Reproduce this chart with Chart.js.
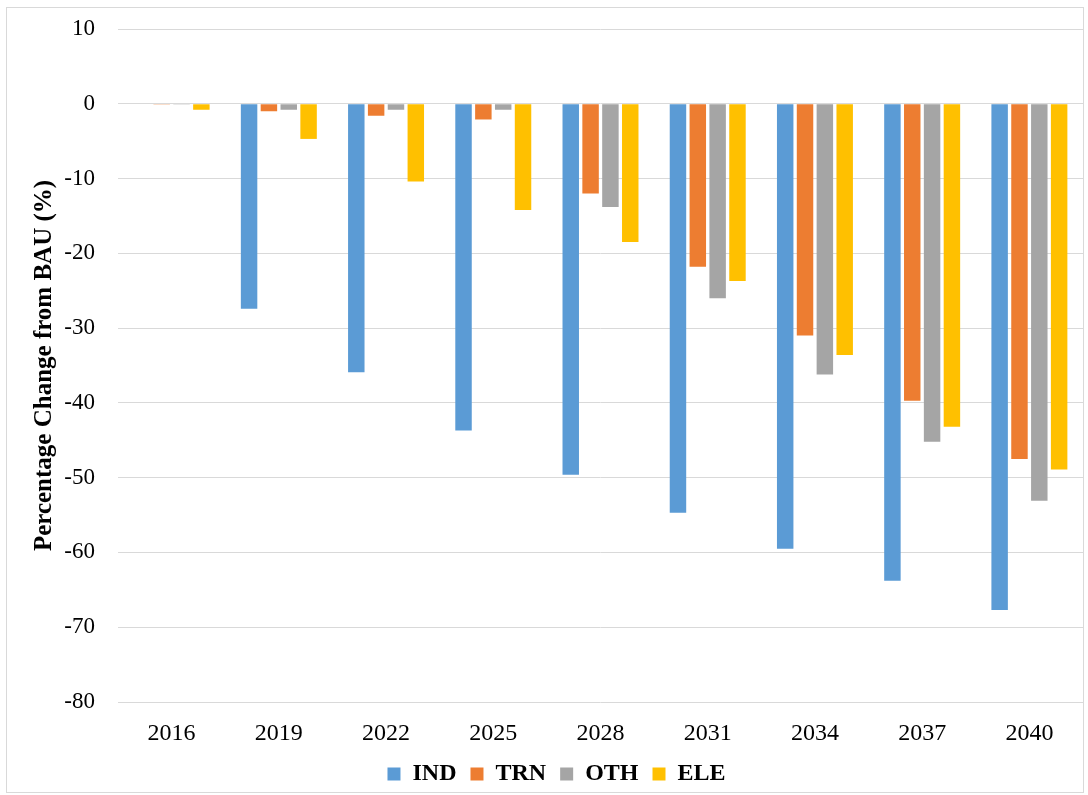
<!DOCTYPE html>
<html>
<head>
<meta charset="utf-8">
<script src="https://cdn.jsdelivr.net/npm/chart.js@4/dist/chart.umd.min.js"></script>
<style>
    body { margin: 0; background: #fff; }
    #wrap { position: absolute; left: 6px; top: 7px; width: 1078px; height: 786px; border: 1px solid #d9d9d9; box-sizing: border-box; }
    #box { position: absolute; left: 0; top: 0; width: 1088px; height: 795px; }
</style>
</head>
<body>
<div id="wrap"></div>
<div id="box"><canvas id="myChart"></canvas></div>
<script>
const Years = ['2016', '2019', '2022', '2025', '2028', '2031', '2034', '2037', '2040'];
const IND = [0, -27.4, -35.9, -43.7, -49.6, -54.7, -59.5, -63.8, -67.7];
const TRN = [-0.1, -1.0, -1.6, -2.1, -12.0, -21.8, -31.0, -39.7, -47.5];
const OTH = [-0.1, -0.8, -0.8, -0.8, -13.8, -26.0, -36.2, -45.2, -53.1];
const ELE = [-0.8, -4.7, -10.4, -14.2, -18.5, -23.7, -33.6, -43.2, -48.9];
const yTicks = [10, 0, -10, -20, -30, -40, -50, -60, -70, -80];

const FONT = '"Liberation Serif", "Times New Roman", serif';

const ctx = document.getElementById('myChart').getContext('2d');
const myChart = new Chart(ctx, {
    type: 'bar',
    data: {
        labels: Years,
        datasets: [
            { label: 'IND', data: IND, backgroundColor: '#5B9BD5' },
            { label: 'TRN', data: TRN, backgroundColor: '#ED7D31' },
            { label: 'OTH', data: OTH, backgroundColor: '#A5A5A5' },
            { label: 'ELE', data: ELE, backgroundColor: '#FFC000' }
        ]
    },
    options: {
        responsive: true,
        maintainAspectRatio: false,
        animation: false,
        categoryPercentage: 0.74,
        barPercentage: 0.83,
        layout: { padding: { left: 30, right: 5, top: 29, bottom: -1 } },
        plugins: {
            legend: {
                position: 'bottom',
                labels: {
                    font: { family: FONT, size: 24, weight: 'bold' },
                    color: '#000',
                    boxWidth: 13,
                    boxHeight: 13,
                    padding: 14
                }
            },
            tooltip: { enabled: false }
        },
        scales: {
            x: {
                grid: { display: false },
                border: { display: false },
                ticks: { font: { family: FONT, size: 24 }, color: '#000', padding: 9 },
                afterFit: (axis) => { axis.height = 46; }
            },
            y: {
                min: -80,
                max: 10,
                afterBuildTicks: (axis) => { axis.ticks = yTicks.map(v => ({ value: v })); },
                afterFit: (axis) => {
                    axis.width = 88;
                    axis.paddingTop = 0;
                    axis.paddingBottom = 0;
                },
                grid: { color: '#d9d9d9', drawTicks: false },
                border: { display: false },
                ticks: { font: { family: FONT, size: 23 }, color: '#000', padding: 23 },
                title: {
                    display: true,
                    text: 'Percentage Change from BAU (%)',
                    font: { family: FONT, size: 25, weight: 'bold' },
                    color: '#000',
                    padding: { top: 0, bottom: 0 }
                }
            }
        }
    }
});
</script>
</body>
</html>
